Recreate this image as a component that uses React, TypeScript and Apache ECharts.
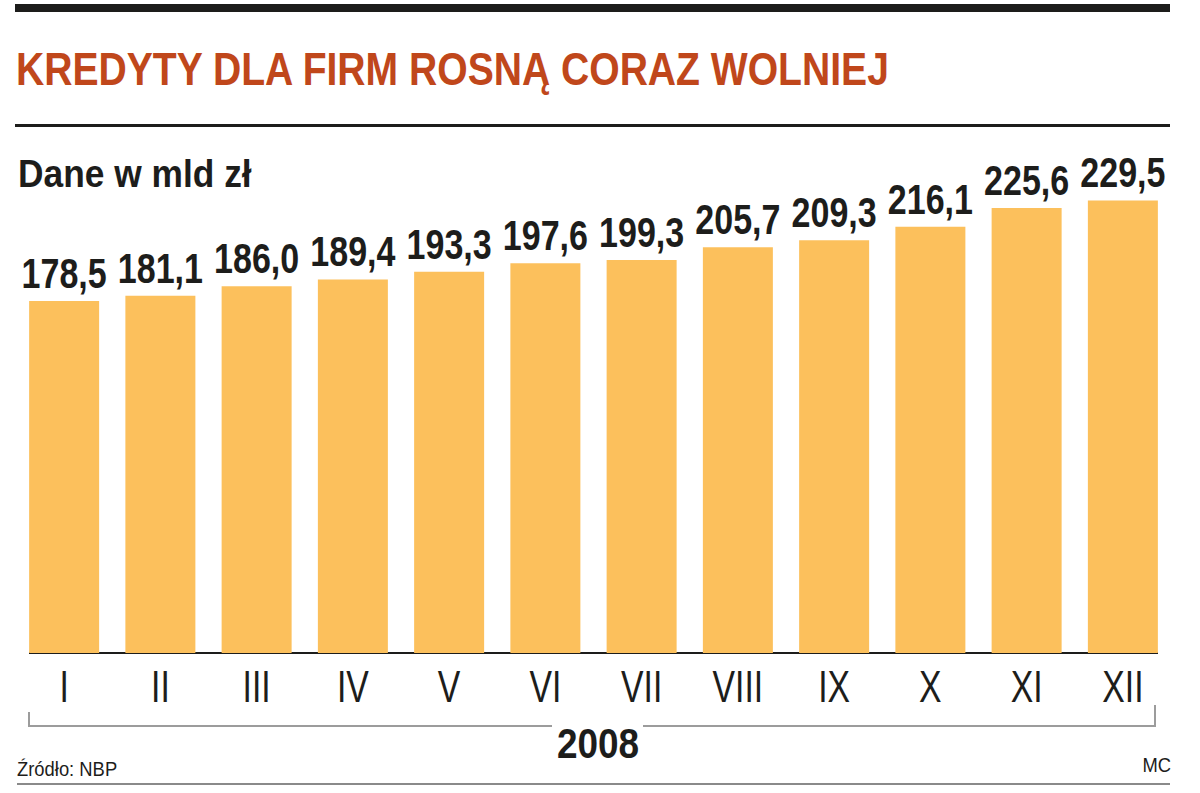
import { useEffect, useRef } from 'react'
import * as echarts from 'echarts'

// kredyty dla firm, mld zł, 2008
const months = ['I', 'II', 'III', 'IV', 'V', 'VI', 'VII', 'VIII', 'IX', 'X', 'XI', 'XII']
const credits = [178.5, 181.1, 186.0, 189.4, 193.3, 197.6, 199.3, 205.7, 209.3, 216.1, 225.6, 229.5]

const titleText = 'KREDYTY DLA FIRM ROSNĄ CORAZ WOLNIEJ'
const unitText = 'Dane w mld zł'
const yearText = '2008'
const sourceText = 'Źródło: NBP'
const authorText = 'MC'

// brak fontu "narrow" w systemie - Liberation Sans ściśnięty przez scaleX
const SANS = "'Liberation Sans', Arial, sans-serif"
const INK = '#1d1d1b'

const fmt = (v: number) => v.toFixed(1).replace('.', ',')

export default function App() {
  const ref = useRef<HTMLDivElement>(null)

  useEffect(() => {
    document.body.style.margin = '0'
    if (!ref.current) return

    const chart = echarts.init(ref.current, null, { renderer: 'svg' })
    chart.setOption({
      animation: false,
      backgroundColor: '#ffffff',
      grid: { left: 16, right: 29, top: 160, bottom: 140 },
      xAxis: {
        type: 'category',
        data: months,
        axisLine: { show: false },
        axisTick: { show: false },
        axisLabel: { show: false },
      },
      yAxis: {
        type: 'value',
        min: 0,
        max: 250,
        show: false,
        splitLine: { show: false },
      },
      series: [
        {
          type: 'bar',
          data: credits,
          barWidth: 70,
          itemStyle: { color: '#fcc05c' },
        },
        {
          // wartości nad słupkami i miesiące pod osią (ściśnięte jak w oryginale)
          type: 'custom',
          data: credits.map((v, i) => [i, v]),
          encode: { x: 0, y: 1 },
          silent: true,
          z: 5,
          renderItem: (_params: any, api: any) => {
            const i = api.value(0)
            const v = api.value(1)
            const top = api.coord([i, v])
            const base = api.coord([i, 0])
            return {
              type: 'group',
              children: [
                {
                  type: 'text',
                  x: top[0],
                  y: top[1] - 7,
                  scaleX: 0.81,
                  style: {
                    text: fmt(v),
                    fontSize: 42,
                    fontWeight: 'bold',
                    fontFamily: SANS,
                    fill: INK,
                    align: 'center',
                    verticalAlign: 'bottom',
                  },
                },
                {
                  type: 'text',
                  x: base[0],
                  y: base[1] + 33,
                  scaleX: 0.75,
                  style: {
                    text: months[i],
                    fontSize: 45,
                    fontFamily: SANS,
                    fill: INK,
                    align: 'center',
                    verticalAlign: 'middle',
                  },
                },
              ],
            }
          },
        },
      ],
      graphic: [
        { type: 'rect', shape: { x: 15, y: 4, width: 1155, height: 8 }, style: { fill: INK } },
        {
          type: 'text',
          x: 16,
          y: 69,
          scaleX: 0.85,
          style: {
            text: titleText,
            fontSize: 46,
            fontWeight: 'bold',
            fontFamily: SANS,
            fill: '#c0471b',
            verticalAlign: 'middle',
          },
        },
        { type: 'line', shape: { x1: 15, y1: 125.5, x2: 1170, y2: 125.5 }, style: { stroke: INK, lineWidth: 3 } },
        {
          type: 'text',
          x: 18,
          y: 174,
          scaleX: 0.93,
          style: {
            text: unitText,
            fontSize: 38,
            fontWeight: 'bold',
            fontFamily: SANS,
            fill: INK,
            verticalAlign: 'middle',
          },
        },
        // oś pozioma
        { type: 'line', shape: { x1: 29, y1: 653, x2: 1158, y2: 653 }, style: { stroke: INK, lineWidth: 2 } },
        // klamra roku
        {
          type: 'polyline',
          shape: { points: [[29, 712], [29, 726], [552, 726]] },
          style: { stroke: '#9c9c9c', lineWidth: 2, fill: 'none' },
        },
        {
          type: 'polyline',
          shape: { points: [[643, 726], [1155, 726], [1155, 705]] },
          style: { stroke: '#9c9c9c', lineWidth: 2, fill: 'none' },
        },
        {
          type: 'text',
          x: 598,
          y: 743,
          scaleX: 0.86,
          style: {
            text: yearText,
            fontSize: 43,
            fontWeight: 'bold',
            fontFamily: SANS,
            fill: INK,
            align: 'center',
            verticalAlign: 'middle',
          },
        },
        {
          type: 'text',
          x: 17,
          y: 769,
          scaleX: 0.92,
          style: { text: sourceText, fontSize: 20, fontFamily: SANS, fill: INK, verticalAlign: 'middle' },
        },
        {
          type: 'text',
          x: 1171,
          y: 765,
          scaleX: 0.92,
          style: { text: authorText, fontSize: 20, fontFamily: SANS, fill: INK, align: 'right', verticalAlign: 'middle' },
        },
        { type: 'line', shape: { x1: 17, y1: 784, x2: 1170, y2: 784 }, style: { stroke: '#8a8a8a', lineWidth: 2 } },
      ],
    })

    return () => {
      chart.dispose()
    }
  }, [])

  return <div ref={ref} style={{ width: 1200, height: 793 }} />
}
